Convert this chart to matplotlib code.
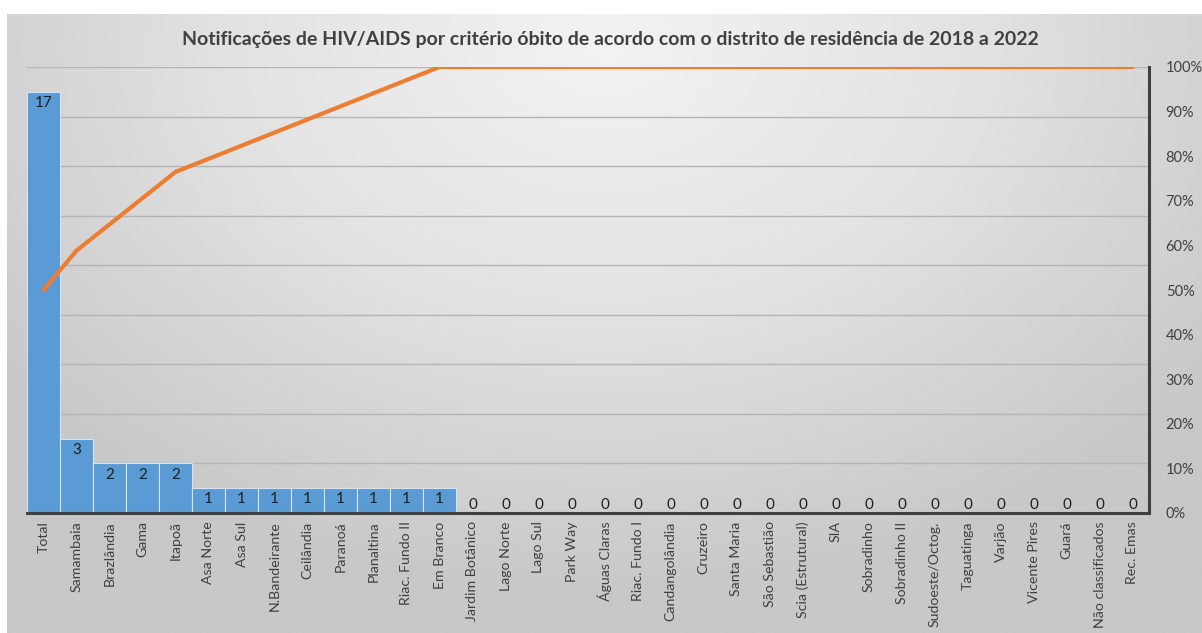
import numpy as np
import matplotlib.pyplot as plt
from matplotlib.colors import LinearSegmentedColormap

plt.rcParams['font.family'] = ['Lato', 'DejaVu Sans']

distritos = ['Total', 'Samambaia', 'Brazlândia', 'Gama', 'Itapoã', 'Asa Norte',
             'Asa Sul', 'N.Bandeirante', 'Ceilândia', 'Paranoá', 'Planaltina',
             'Riac. Fundo II', 'Em Branco', 'Jardim Botânico', 'Lago Norte',
             'Lago Sul', 'Park Way', 'Águas Claras', 'Riac. Fundo I',
             'Candangolândia', 'Cruzeiro', 'Santa Maria', 'São Sebastião',
             'Scia (Estrutural)', 'SIA', 'Sobradinho', 'Sobradinho II',
             'Sudoeste/Octog.', 'Taguatinga', 'Varjão', 'Vicente Pires', 'Guará',
             'Não classificados', 'Rec. Emas']
obitos = [17, 3, 2, 2, 2, 1, 1, 1, 1, 1, 1, 1, 1, 0, 0, 0, 0, 0, 0, 0, 0,
          0, 0, 0, 0, 0, 0, 0, 0, 0, 0, 0, 0, 0]
pct_ticks = [0, 0.1, 0.2, 0.3, 0.4, 0.5, 0.6, 0.7, 0.8, 0.9, 1.0]

titulo = ('Notificações de HIV/AIDS por critério óbito de acordo com o '
          'distrito de residência de 2018 a 2022')

W, H = 1202, 633
fig = plt.figure(figsize=(W / 100, H / 100), dpi=100)
fig.patch.set_facecolor('white')

# fundo com gradiente radial (estilo Excel)
bg = fig.add_axes([7 / W, 0, 1 - 7 / W, 1 - 14 / H])
bg.set_axis_off()
gx, gy = np.meshgrid(np.linspace(0, 1, 400), np.linspace(0, 1, 200))
dist = np.sqrt(((gx - 0.5) * 1.25) ** 2 + ((gy - 0.05) * 0.9) ** 2)
cmap = LinearSegmentedColormap.from_list('bg', ['#f3f3f3', '#e2e2e2', '#c8c8c8'])
bg.imshow(dist, cmap=cmap, aspect='auto', extent=[0, 1, 1, 0], vmin=0, vmax=0.8)
bg.set_xlim(0, 1)
bg.set_ylim(1, 0)

ax = fig.add_axes([27 / W, (H - 513) / H, 1122 / W, 446 / H])
ax.set_facecolor('none')
x = np.arange(len(distritos))
ax.bar(x, obitos, width=1.0, color='#5b9bd5', edgecolor='#d6e3f3', linewidth=0.8, zorder=2)
ax.set_xlim(-0.5, len(distritos) - 0.5)
ax.set_ylim(0, 18)
ax.set_yticks(np.arange(0, 19, 2))
ax.grid(axis='y', color='#b4b4b4', linewidth=1, zorder=0)
ax.set_axisbelow(True)
for s in ['top', 'left', 'right']:
    ax.spines[s].set_visible(False)
ax.spines['bottom'].set_color('#404040')
ax.spines['bottom'].set_linewidth(2.2)
ax.spines['bottom'].set_zorder(4)
ax.set_xticks(x)
ax.set_xticklabels(distritos, rotation=90, fontsize=10.2, color='#404040')
ax.tick_params(axis='x', length=0, pad=6)

for xi, v in zip(x, obitos):
    if v > 0:
        ax.annotate(str(v), (xi, v), xytext=(0, -3), textcoords='offset points',
                    ha='center', va='top', fontsize=11, color='#1f1f1f', zorder=5)
    else:
        ax.annotate(str(v), (xi, v), xytext=(0, 1), textcoords='offset points',
                    ha='center', va='bottom', fontsize=11, color='#1f1f1f', zorder=5)

ax2 = ax.twinx()
cum = np.cumsum(obitos) / np.sum(obitos)
ax2.plot(x, cum, color='#ed7d31', linewidth=3, solid_capstyle='round', zorder=3)
ax2.set_ylim(0, 1)
ax2.set_yticks(pct_ticks)
ax2.set_yticklabels([f'{int(round(p * 100))}%' for p in pct_ticks], fontsize=10.5, color='#404040')
ax2.tick_params(axis='y', length=0, pad=12)
for s in ['top', 'left', 'bottom']:
    ax2.spines[s].set_visible(False)
ax2.spines['right'].set_color('#404040')
ax2.spines['right'].set_linewidth(2.2)
ax.tick_params(axis='y', left=False, right=False, labelleft=False, labelright=False)

fig.text(610 / W, 1 - 40 / H, titulo, ha='center', va='center', fontsize=14,
         fontweight='bold', color='#404040')

fig.savefig('out.png', dpi=100)
